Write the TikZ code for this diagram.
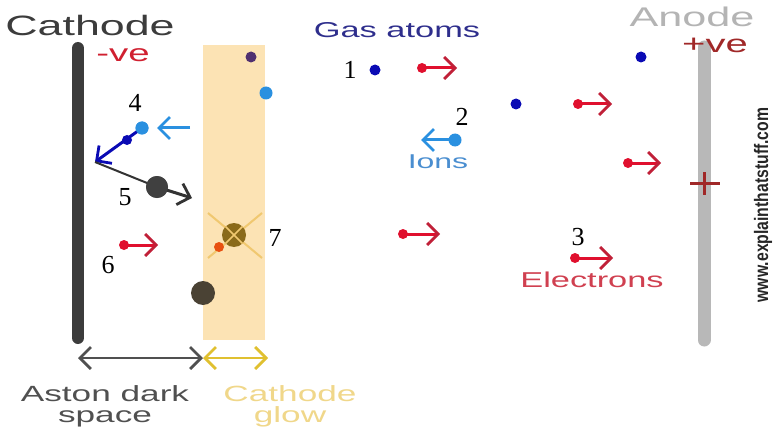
\documentclass[tikz,border=0pt]{standalone}
\usepackage{fontspec}
\setmainfont{Liberation Sans}
\newfontfamily\widesans[FakeStretch=1.6]{Liberation Sans}
\newfontfamily\numfont{Liberation Serif}
\usetikzlibrary{arrows.meta}

\definecolor{cathgray}{HTML}{3C3C3C}
\definecolor{anodegray}{HTML}{B8B8B8}
\definecolor{anodetext}{HTML}{B4B4B4}
\definecolor{glowfill}{HTML}{FCE3B4}
\definecolor{elred}{HTML}{E0102E}
\definecolor{headred}{HTML}{C02038}
\definecolor{atomblue}{HTML}{0A0AB4}
\definecolor{ionblue}{HTML}{2A90E0}
\definecolor{gasblue}{HTML}{2E2E8C}
\definecolor{ionlabel}{HTML}{4A8ED0}
\definecolor{elabel}{HTML}{D04050}
\definecolor{vered}{HTML}{D02030}
\definecolor{plusred}{HTML}{A02828}
\definecolor{glowtext}{HTML}{F0D78A}
\definecolor{goldarrow}{HTML}{E0C030}
\definecolor{ballgray}{HTML}{404040}
\definecolor{balldark}{HTML}{4A4234}
\definecolor{ballseven}{HTML}{8A6A1A}
\definecolor{crossorange}{HTML}{F0C870}
\definecolor{sparkorange}{HTML}{E85010}
\definecolor{purpledot}{HTML}{503070}
\definecolor{labelgray}{HTML}{505050}

\begin{document}
\begin{tikzpicture}[x=1pt,y=-1pt,
  lbl/.style={font={\widesans\fontsize{#1}{#1}\selectfont}, inner sep=0pt},
  twoline/.style={font={\widesans\fontsize{22}{21}\selectfont}, inner sep=0pt, align=center},
  num/.style={font={\numfont\fontsize{26}{26}\selectfont}, inner sep=0pt, text=black},
  dot/.style={circle, fill=#1, inner sep=0pt, minimum size=11pt},
  edot/.style={circle, fill=elred, inner sep=0pt, minimum size=10pt},
  barb/.style={-{Straight Barb[length=11pt,width=22pt,line width=2.8pt,#1]}},
  elarrow/.style={draw=elred, line width=3pt, barb={color=headred}},
  ionarrow/.style={draw=ionblue, line width=3pt, barb={}},
  span/.style={line width=2.8pt,
     {Straight Barb[length=11pt,width=22pt,line width=2.8pt]}-{Straight Barb[length=11pt,width=22pt,line width=2.8pt]}}
]
\useasboundingbox (0,0) rectangle (784,441);

% cathode glow region
\fill[glowfill] (203,45) rectangle (265,340);

% electrodes
\draw[cathgray, line width=12pt, line cap=round] (78,48) -- (78,338);
\draw[anodegray, line width=13pt, line cap=round] (704,47) -- (704,340);
\draw[plusred, line width=3pt] (690,183) -- (720,183) (704,172) -- (704,195);

% labels
\node[lbl=28, text=cathgray] (cathode) at (90,25) {Cathode};
\node[lbl=24, text=vered] (neg) at (123,55) {-ve};
\node[lbl=27, text=anodetext] (anode) at (692,17) {Anode};
\node[lbl=25, text=plusred] (pos) at (715,45) {+ve};
\node[lbl=21.5, text=gasblue] (gas) at (397,30) {Gas atoms};
\node[lbl=20, text=ionlabel] (ions) at (438,162) {Ions};
\node[lbl=21.5, text=elabel] (electrons) at (592,280) {Electrons};
\node[twoline, text=labelgray] (aston) at (105,406) {Aston dark\\space};
\node[twoline, text=glowtext] (glowlbl) at (290,406) {Cathode\\glow};
\node[rotate=90, inner sep=0pt, font={\bfseries\fontsize{15}{15}\selectfont}, text=black!85] (www) at (763,205) {\scalebox{1.05}[1.3]{www.explainthatstuff.com}};

% numbers
\node[num] (n1) at (350,70) {1};
\node[num] (n2) at (462,117) {2};
\node[num] (n3) at (578,237) {3};
\node[num] (n4) at (135,103) {4};
\node[num] (n5) at (125,197) {5};
\node[num] (n6) at (108,265) {6};
\node[num] (n7) at (275,238) {7};

% gas atoms
\node[dot=atomblue] (g1) at (375,70) {};
\node[dot=atomblue] (g2) at (516,104) {};
\node[dot=atomblue] (g3) at (641,57) {};
\node[dot=purpledot] (gp) at (251,57) {};
\node[dot=ionblue, minimum size=13pt] (gi) at (266,93) {};

% electrons
\node[edot] (e1) at (422,68) {};
\coordinate (e1h) at (457,68);
\node[edot] (e2) at (578,104) {};
\coordinate (e2h) at (612,104);
\node[edot] (e3) at (628,163) {};
\coordinate (e3h) at (661,163);
\node[edot] (e4) at (403,234) {};
\coordinate (e4h) at (440,234);
\node[edot] (e5) at (575,258) {};
\coordinate (e5h) at (613,258);
\node[edot] (e6) at (124,245) {};
\coordinate (e6h) at (158,245);
\foreach \a in {1,...,6} { \draw[elarrow] (e\a.center) -- (e\a h); }

% ion 2
\node[dot=ionblue, minimum size=13pt] (i2) at (455,140) {};
\coordinate (i2h) at (421,140);
\draw[ionarrow] (i2.center) -- (i2h);

% ion 4 hitting cathode
\coordinate (i4t) at (190,128);
\coordinate (i4h) at (157,128);
\draw[ionarrow] (i4t) -- (i4h);
\coordinate (imp) at (95,162);
\node[dot=ionblue, minimum size=13pt] (i4) at (142,128) {};
\draw[atomblue, line width=3pt, barb={}] (i4.center) -- (imp);
\node[dot=atomblue, minimum size=10pt] (b4) at (127,140) {};
\node[dot=ionblue, minimum size=13pt] at (i4) {};

% secondary electron / atom 5
\node[dot=ballgray, minimum size=22pt] (ball5) at (157,187) {};
\coordinate (b5h) at (192,198);
\draw[black!80, line width=2pt] (imp) -- (ball5.center);
\draw[black!80, line width=3pt, barb={}] (ball5.center) -- (b5h);
\node[dot=ballgray, minimum size=22pt] at (ball5) {};

% atom in cathode glow
\node[dot=balldark, minimum size=24pt] (ball) at (203,293) {};

% atom 7 emitting light
\coordinate (x1) at (208,213);
\coordinate (x2) at (262,258);
\coordinate (x3) at (262,213);
\coordinate (x4) at (208,258);
\draw[crossorange, line width=2pt] (x1) -- (x2) (x3) -- (x4);
\node[dot=ballseven, minimum size=24pt] (ball7) at (234,235) {};
\draw[crossorange, line width=1.5pt] (ball7.north west) -- (ball7.south east) (ball7.north east) -- (ball7.south west);
\node[dot=sparkorange, minimum size=10pt] (spark) at (219,247) {};

% widths of the regions
\coordinate (dL) at (78,358);
\coordinate (dM) at (203,358);
\coordinate (dR) at (268,358);
\draw[span, draw=labelgray] (dL) -- (dM);
\draw[span, draw=goldarrow] (dM) -- (dR);
\end{tikzpicture}
\end{document}
